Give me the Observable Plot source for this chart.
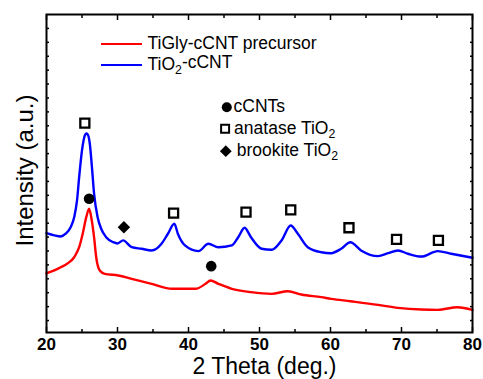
<!DOCTYPE html>
<html><head><meta charset="utf-8">
<script src="https://cdn.jsdelivr.net/npm/d3@7"></script>
<script src="https://cdn.jsdelivr.net/npm/@observablehq/plot@0.6"></script>
<style>body{margin:0;background:#fff} svg{display:block}</style>
</head><body><div id="chart"></div>
<script>
// TiO2-cCNT (blue)
const blueTheta = [20.0,21.1,22.0,22.7,23.4,23.9,24.3,24.6,25.0,25.4,25.6,25.8,26.1,26.4,26.7,27.2,27.7,28.4,29.4,30.0,30.8,32.0,33.4,34.8,36.2,37.1,38.0,38.5,39.5,41.4,42.8,44.2,46.1,47.0,47.9,48.8,50.3,51.7,53.1,54.4,55.4,56.8,58.7,60.1,61.5,62.8,64.3,66.7,68.1,69.5,70.9,72.8,75.1,77.0,80.0];
const blueI = [6.28,6.12,6.04,6.24,6.71,7.43,8.63,10.31,12.23,13.31,13.45,13.38,12.71,11.03,9.12,7.43,6.60,5.99,5.63,5.54,5.76,5.27,5.16,5.04,5.52,6.24,6.96,6.24,5.40,4.99,5.52,5.27,5.40,5.99,6.67,5.99,5.16,5.09,5.76,6.83,6.24,5.27,4.91,4.84,5.16,5.63,5.04,4.63,4.84,5.04,4.80,4.60,4.99,4.80,4.51];
// TiGly-cCNT precursor (red)
const redTheta = [20.0,21.1,22.0,22.9,23.9,24.6,25.1,25.6,26.0,26.3,26.7,27.0,27.5,28.2,30.1,32.0,34.8,37.7,41.0,42.4,43.1,44.2,46.1,48.8,51.7,54.0,55.9,58.7,60.1,62.8,66.7,69.5,72.8,75.1,77.9,80.0];
const redI = [3.40,3.60,3.83,4.08,4.55,5.27,6.24,7.43,8.04,7.43,5.99,4.55,3.60,3.36,3.24,3.00,2.64,2.28,2.28,2.64,2.88,2.64,2.28,2.04,1.92,2.11,1.87,1.68,1.56,1.39,1.13,0.91,0.79,0.77,0.96,0.77];
// peak markers
const anataseTheta = [25.4,37.9,48.1,54.4,62.6,69.3,75.2];
const anataseI = [14.19,7.72,7.79,7.96,6.67,5.83,5.76];
const ccntTheta = [26.0,43.2];
const ccntI = [8.76,3.91];
const brookiteTheta = [30.9];
const brookiteI = [6.71];
// axes
const xTicks = [20,30,40,50,60,70,80];
const xMinor = [25,35,45,55,65,75];
const yTicks = d3.range(0,22);
const seriesNames = ["TiGly-cCNT precursor","TiO2-cCNT"];
const seriesColors = ["#ff0000","#0000ff"];
const markerNames = ["cCNTs","anatase TiO2","brookite TiO2"];

const blue = blueTheta.map((t,i)=>({t, v: blueI[i]}));
const red = redTheta.map((t,i)=>({t, v: redI[i]}));
const anatase = anataseTheta.map((t,i)=>({t, v: anataseI[i]}));
const ccnt = ccntTheta.map((t,i)=>({t, v: ccntI[i]}));
const brookite = brookiteTheta.map((t,i)=>({t, v: brookiteI[i]}));

const font = "'Liberation Sans', Arial, sans-serif";
const blank = () => "";

const plot = Plot.plot({
  width: 483, height: 379,
  marginLeft: 46, marginRight: 11, marginTop: 14, marginBottom: 47,
  style: {fontFamily: font, background: "#fff", color: "#000"},
  x: {domain: [20, 80]},
  y: {domain: [-0.86, 22.0]},
  marks: [
    Plot.line(red, {x: "t", y: "v", stroke: seriesColors[0], strokeWidth: 2.4, curve: "monotone-x"}),
    Plot.line(blue, {x: "t", y: "v", stroke: seriesColors[1], strokeWidth: 2.4, curve: "monotone-x"}),
    Plot.dot(anatase, {x: "t", y: "v", symbol: "square", r: 5.1, stroke: "#000", strokeWidth: 2.3, fill: "#fff"}),
    Plot.dot(ccnt, {x: "t", y: "v", symbol: "circle", r: 5.3, fill: "#000", stroke: "none"}),
    Plot.dot(brookite, {x: "t", y: "v", symbol: "diamond2", r: 5.6, fill: "#000", stroke: "none"}),
    // ticks (inward)
    Plot.axisX({ticks: xTicks, anchor: "bottom", tickSize: -5, tickFormat: blank, label: null, strokeWidth: 1.5}),
    Plot.axisX({ticks: xMinor, anchor: "bottom", tickSize: -3, tickFormat: blank, label: null, strokeWidth: 1.5}),
    Plot.axisX({ticks: xTicks, anchor: "top", tickSize: -5, tickFormat: blank, label: null, strokeWidth: 1.5}),
    Plot.axisX({ticks: xMinor, anchor: "top", tickSize: -3, tickFormat: blank, label: null, strokeWidth: 1.5}),
    Plot.axisY({ticks: yTicks, anchor: "left", tickSize: -3, tickFormat: blank, label: null, strokeWidth: 1.5}),
    Plot.axisY({ticks: yTicks, anchor: "right", tickSize: -3, tickFormat: blank, label: null, strokeWidth: 1.5}),
    // tick labels
    Plot.axisX({ticks: xTicks, anchor: "bottom", tickSize: 0, tickPadding: 5, label: null, fontSize: 17}),
    Plot.frame({stroke: "#000", strokeWidth: 2}),
    // axis titles
    Plot.text(["2 Theta (deg.)"], {frameAnchor: "bottom", dx: 5, dy: 41.5, lineAnchor: "bottom", textAnchor: "middle", fontSize: 23, fill: "#000"}),
    Plot.text(["Intensity (a.u.)"], {frameAnchor: "left", dx: -14, dy: -3, rotate: -90, lineAnchor: "bottom", textAnchor: "middle", fontSize: 24, fill: "#000"}),
    // legend: series
    Plot.text([seriesNames[0]], {frameAnchor: "top-left", dx: 101, dy: 34.5, lineAnchor: "bottom", textAnchor: "start", fontSize: 17.5, fill: "#000"}),
    Plot.text([seriesNames[1]], {frameAnchor: "top-left", dx: 101, dy: 55.5, lineAnchor: "bottom", textAnchor: "start", fontSize: 17.5, fill: "#000"}),
    // legend: markers
    Plot.dot([0], {frameAnchor: "top-left", dx: 180.3, dy: 92.7, symbol: "circle", r: 5, fill: "#000", stroke: "none"}),
    Plot.dot([0], {frameAnchor: "top-left", dx: 178.6, dy: 114.3, symbol: "square", r: 4.5, fill: "#fff", stroke: "#000", strokeWidth: 2}),
    Plot.dot([0], {frameAnchor: "top-left", dx: 179.3, dy: 136.7, symbol: "diamond2", r: 5.3, fill: "#000", stroke: "none"}),
    Plot.text([markerNames[0]], {frameAnchor: "top-left", dx: 187, dy: 97.7, lineAnchor: "bottom", textAnchor: "start", fontSize: 17.5, fill: "#000"}),
    Plot.text([markerNames[1]], {frameAnchor: "top-left", dx: 187.6, dy: 119.3, lineAnchor: "bottom", textAnchor: "start", fontSize: 17.5, fill: "#000"}),
    Plot.text([markerNames[2]], {frameAnchor: "top-left", dx: 190.3, dy: 141, lineAnchor: "bottom", textAnchor: "start", fontSize: 17.5, fill: "#000"})
  ]
});

const svg = d3.select(plot);
// bold tick labels
const labelSet = new Set(xTicks.map(String));
svg.selectAll("text").filter(function() { return labelSet.has(this.textContent.trim()); })
  .style("font-weight", "bold").style("font-size", "17px");
// legend line samples
const legendLines = svg.append("g");
seriesColors.forEach((c, i) => {
  legendLines.append("line")
    .attr("x1", 101).attr("x2", 142)
    .attr("y1", 44 + 21 * i).attr("y2", 44 + 21 * i)
    .attr("stroke", c).attr("stroke-width", 2.2);
});
// subscripts for TiO2
svg.selectAll("text").each(function() {
  const el = this;
  const targets = el.querySelectorAll("tspan").length ? el.querySelectorAll("tspan") : [el];
  targets.forEach(t => {
    const s = t.textContent;
    const idx = s.indexOf("TiO2");
    if (idx < 0 || t.children.length) return;
    const before = s.slice(0, idx + 3), after = s.slice(idx + 4);
    t.textContent = "";
    const ns = "http://www.w3.org/2000/svg";
    t.appendChild(document.createTextNode(before));
    const sub = document.createElementNS(ns, "tspan");
    sub.setAttribute("dy", "0.35em"); sub.setAttribute("font-size", "0.7em");
    sub.textContent = "2";
    t.appendChild(sub);
    if (after) {
      const rest = document.createElementNS(ns, "tspan");
      rest.setAttribute("dy", "-0.35em");
      rest.textContent = after;
      t.appendChild(rest);
    }
  });
});
document.getElementById("chart").appendChild(plot);
</script>
</body></html>
